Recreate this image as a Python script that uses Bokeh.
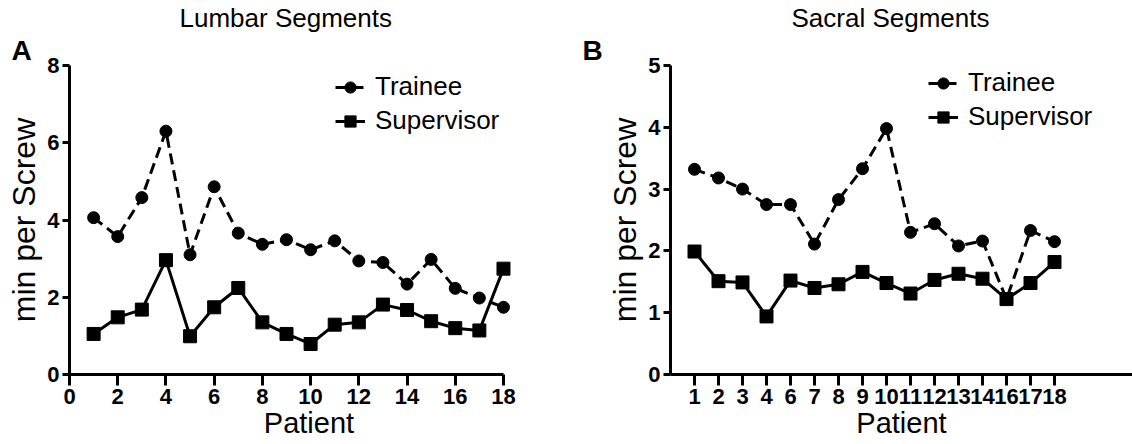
from bokeh.plotting import figure
from bokeh.models import Range1d, Legend, LegendItem, Title, FixedTicker
from bokeh.layouts import row
from bokeh.embed import file_html
from bokeh.resources import INLINE

# ---- data ----
lumbar_patients = list(range(1, 19))
lumbar_trainee = [4.06, 3.57, 4.58, 6.30, 3.10, 4.86, 3.66, 3.37, 3.49, 3.23, 3.46, 2.94, 2.90, 2.34, 2.98, 2.23, 1.98, 1.74]
lumbar_supervisor = [1.05, 1.48, 1.68, 2.96, 0.99, 1.74, 2.24, 1.35, 1.05, 0.79, 1.29, 1.35, 1.81, 1.67, 1.38, 1.20, 1.14, 2.74]
lumbar_xticks = [0, 2, 4, 6, 8, 10, 12, 14, 16, 18]
lumbar_yticks = [0, 2, 4, 6, 8]

sacral_patients = ["1", "2", "3", "4", "6", "7", "8", "9", "10", "11", "12", "13", "14", "16", "17", "18"]
sacral_trainee = [3.32, 3.18, 3.00, 2.75, 2.75, 2.11, 2.83, 3.33, 3.98, 2.30, 2.44, 2.08, 2.16, 1.22, 2.33, 2.15]
sacral_supervisor = [1.99, 1.51, 1.49, 0.94, 1.52, 1.40, 1.46, 1.66, 1.48, 1.31, 1.53, 1.63, 1.55, 1.22, 1.48, 1.82]
sacral_yticks = [0, 1, 2, 3, 4, 5]

FONT = "Liberation Sans"


def style_axes(p, x_tick_out=11, y_tick_out=7):
    for ax in (p.xaxis[0], p.yaxis[0]):
        ax.axis_line_width = 3
        ax.axis_line_color = "black"
        ax.major_tick_line_width = 3
        ax.major_tick_line_color = "black"
        ax.major_tick_in = 0
        ax.minor_tick_line_color = None
        ax.major_label_text_font = FONT
        ax.major_label_text_font_size = "22px"
        ax.major_label_text_font_style = "bold"
        ax.major_label_text_color = "black"
        ax.axis_label_text_font = FONT
        ax.axis_label_text_font_style = "normal"
        ax.axis_label_text_color = "black"
    p.xaxis[0].major_tick_out = x_tick_out
    p.xaxis[0].major_label_standoff = 3
    p.xaxis[0].axis_label = "Patient"
    p.xaxis[0].axis_label_text_font_size = "29px"
    p.xaxis[0].axis_label_standoff = 0
    p.yaxis[0].major_tick_out = y_tick_out
    p.yaxis[0].major_label_standoff = 3
    p.yaxis[0].axis_label = "min per Screw"
    p.yaxis[0].axis_label_text_font_size = "32px"
    p.yaxis[0].axis_label_standoff = 2
    p.xgrid.visible = False
    p.ygrid.visible = False
    p.outline_line_color = None


def add_series(p, x, trainee, supervisor, lx, ly):
    l1 = p.line(x, trainee, line_width=3, line_color="black", line_dash="11 6")
    s1 = p.scatter(x, trainee, marker="circle", size=12, fill_color="black", line_color="black")
    l2 = p.line(x, supervisor, line_width=3, line_color="black")
    s2 = p.scatter(x, supervisor, marker="square", size=13, fill_color="black", line_color="black")
    leg = Legend(
        items=[LegendItem(label="Trainee", renderers=[l1, s1]),
               LegendItem(label="Supervisor", renderers=[l2, s2])],
        location=(lx, ly),
        padding=0, margin=0, spacing=3,
        label_height=28, glyph_height=28, glyph_width=30, label_standoff=10,
        label_text_font=FONT, label_text_font_size="26px", label_text_color="black",
        background_fill_alpha=0, border_line_color=None,
    )
    p.add_layout(leg, "center")


def add_titles(p, letter, letter_offset, title, title_offset):
    # the first added sits next to the frame, the second one above it
    p.add_layout(Title(text=letter, align="left", offset=letter_offset, standoff=0,
                       text_font=FONT, text_font_size="28px", text_font_style="bold",
                       text_color="black"), "above")
    p.add_layout(Title(text=title, align="left", offset=title_offset, standoff=0,
                       text_font=FONT, text_font_size="26px", text_font_style="normal",
                       text_color="black"), "above")


# ---- left panel ----
p1 = figure(width=570, height=444, output_backend="svg", toolbar_location=None, title=None,
            x_range=Range1d(0, 479 / 24.11), y_range=Range1d(0, 8),
            min_border_left=69, min_border_right=22, min_border_top=64, min_border_bottom=70)
style_axes(p1)
p1.xaxis[0].ticker = FixedTicker(ticks=lumbar_xticks)
p1.xaxis[0].bounds = (lumbar_xticks[0], lumbar_xticks[-1])
p1.yaxis[0].ticker = FixedTicker(ticks=lumbar_yticks)
add_series(p1, lumbar_patients, lumbar_trainee, lumbar_supervisor, 266, 238)
add_titles(p1, "A", -58, "Lumbar Segments", 110)

# ---- right panel ----
sx = list(range(1, len(sacral_patients) + 1))
p2 = figure(width=562, height=444, output_backend="svg", toolbar_location=None, title=None,
            x_range=Range1d(0, 462 / 24.0), y_range=Range1d(0, 5),
            min_border_left=100, min_border_right=0, min_border_top=64, min_border_bottom=70)
style_axes(p2)
p2.xaxis[0].ticker = FixedTicker(ticks=sx)
p2.xaxis[0].major_label_overrides = {i: lab for i, lab in zip(sx, sacral_patients)}
p2.yaxis[0].ticker = FixedTicker(ticks=sacral_yticks)
add_series(p2, sx, sacral_trainee, sacral_supervisor, 258, 242)
add_titles(p2, "B", -88, "Sacral Segments", 121)

layout = row(p1, p2)
open("out.html", "w").write(file_html(layout, INLINE))
